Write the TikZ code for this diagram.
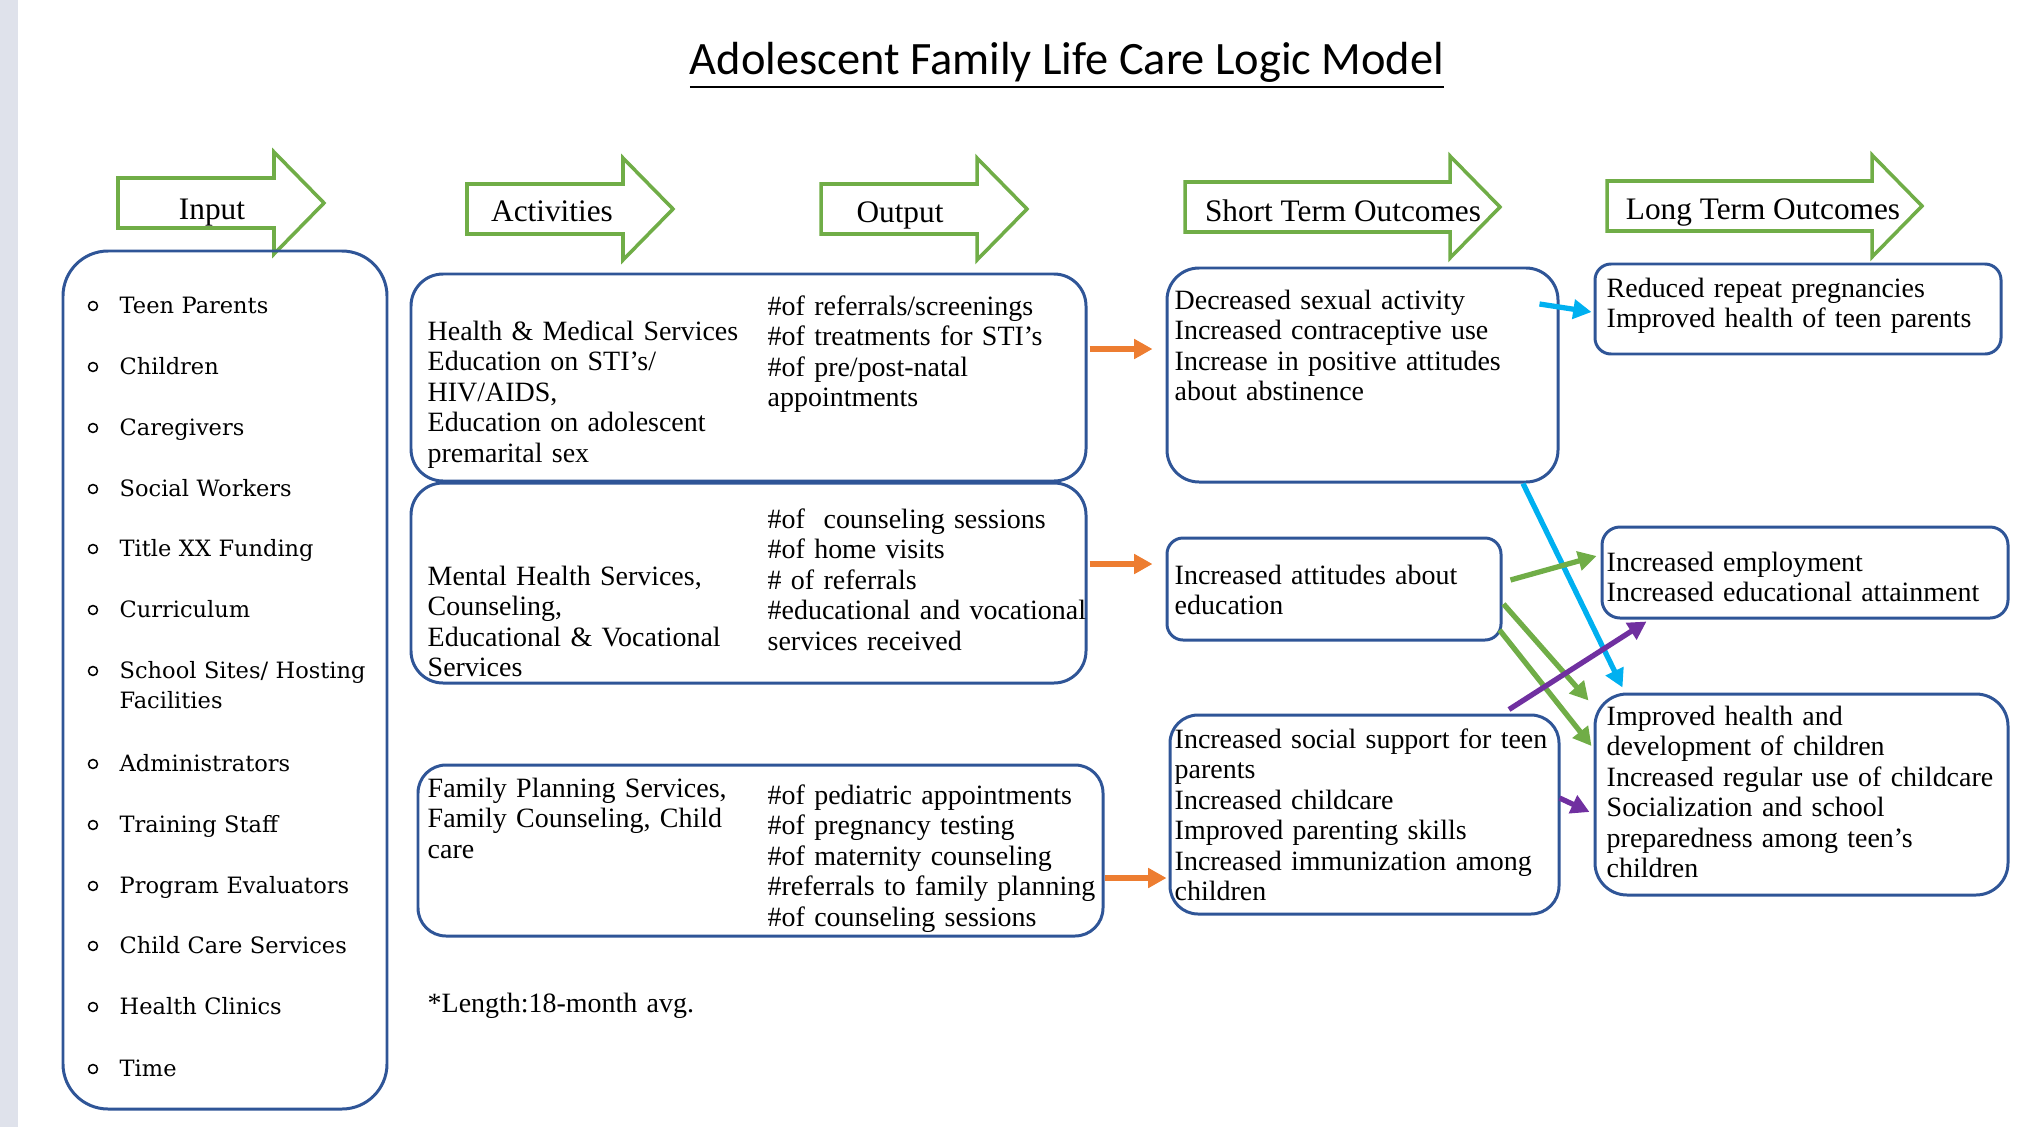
\documentclass[tikz,border=0pt]{standalone}
\usepackage{fontspec}
\setmainfont{Liberation Serif}
\newfontfamily\listfont{DejaVu Serif}
\newfontfamily\titlefont{Carlito}
\usetikzlibrary{arrows.meta,calc,fit}

\definecolor{boxblue}{HTML}{2F5597}
\definecolor{hdrgreen}{HTML}{70AD47}
\definecolor{arrorange}{HTML}{ED7D31}
\definecolor{arrcyan}{HTML}{00B0F0}
\definecolor{arrgreen}{HTML}{70AD47}
\definecolor{arrpurple}{HTML}{7030A0}
\definecolor{bandgray}{HTML}{DFE2EB}

\tikzstyle{every path}=[line cap=round,line join=round]
\tikzstyle{box}=[draw=boxblue,line width=0.85pt,inner sep=0pt]
\tikzstyle{hdr}=[draw=hdrgreen,line width=1pt,line join=miter]
\tikzstyle{hdrtext}=[font=\fontsize{8.9}{11}\selectfont,anchor=base,inner sep=0pt]
\tikzstyle{txt}=[font=\fontsize{7.95}{8.7}\selectfont,anchor=base west,align=left,text width=6cm,inner sep=0pt]
\tikzstyle{item}=[font=\listfont\fontsize{6.4}{8.8}\selectfont,anchor=base west,align=left,text width=4cm,inner sep=0pt]
\tikzstyle{bullet}=[draw,circle,minimum size=0.09cm,inner sep=0pt,line width=0.45pt]
\tikzstyle{link}=[line width=1.5pt,line cap=butt,-{Triangle[length=5.2pt,width=5.4pt]}]

\begin{document}
\begin{tikzpicture}[x=0.01cm,y=-0.01cm]
    \useasboundingbox (0,0) rectangle (2027,1127);
    % grey strip on the left page edge
    \fill[bandgray] (0,0) rectangle (18,1127);

    % Title
    \node[font=\titlefont\fontsize{13.2}{16}\selectfont,anchor=base,inner sep=0pt] (title)
        at (1067,74) {\underline{Adolescent Family Life Care Logic Model}};

    % Column headers as hollow block arrows
    \foreach \x/\y/\w/\tx/\ty/\n/\t in {
        118/203/156/212/219/hIn/Input,
        467/209/156/552/221/hAct/Activities,
        821/209/156/900/222/hOut/Output,
        1185/207/265/1343/221/hShort/Short Term Outcomes,
        1607/206/265/1763/219/hLong/Long Term Outcomes}{
        \draw[hdr] (\x,\y-25) -- ++(\w,0) -- ++(0,-26) -- ++(50,51)
            -- ++(-50,51) -- ++(0,-26) -- ++(-\w,0) -- cycle;
        \node[hdrtext] (\n) at (\tx,\ty) {\t};
    }

    % Boxes
    \node[box,rounded corners=0.45cm,fit={(63,251) (387,1109)}] (input) {};
    \node[box,rounded corners=0.32cm,fit={(411,274) (1086,481)}] (A1) {};
    \node[box,rounded corners=0.32cm,fit={(411,483) (1086,683)}] (A2) {};
    \node[box,rounded corners=0.28cm,fit={(418,765) (1103,936)}] (A3) {};
    \node[box,rounded corners=0.32cm,fit={(1167,268) (1558,482)}] (S1) {};
    \node[box,rounded corners=0.16cm,fit={(1167,538) (1501,640)}] (S2) {};
    \node[box,rounded corners=0.28cm,fit={(1170,715) (1559,914)}] (S3) {};
    \node[box,rounded corners=0.16cm,fit={(1595,264) (2001,354)}] (L1) {};
    \node[box,rounded corners=0.18cm,fit={(1602,527) (2008,618)}] (L2) {};
    \node[box,rounded corners=0.32cm,fit={(1595,694) (2008,895)}] (L3) {};

    % Input list
    \foreach \y/\t [count=\k] in {306/Teen Parents, 367/Children, 428/Caregivers,
        489/Social Workers, 549/Title XX Funding, 610/Curriculum,
        671/{School Sites/ Hosting\\Facilities}, 764/Administrators,
        825/Training Staff, 886/Program Evaluators, 946/Child Care Services,
        1007/Health Clinics, 1069/Time}{
        \node[bullet] (dot\k) at (93,\y) {};
        \node[item] (in\k) at (119,\y+7) {\t};
    }

    % Activities and outputs
    \node[txt] (act1) at (427,340) {Health \& Medical Services\\Education on STI’s/\\HIV/AIDS,\\Education on adolescent\\premarital sex};
    \node[txt] (out1) at (767,315) {\#of referrals/screenings\\\#of treatments for STI’s\\\#of pre/post-natal\\appointments};
    \node[txt] (act2) at (427,585) {Mental Health Services,\\Counseling,\\Educational \& Vocational\\Services};
    \node[txt] (out2) at (767,528) {\#of\ \ counseling sessions\\\#of home visits\\\# of referrals\\\#educational and vocational\\services received};
    \node[txt] (act3) at (427,797) {Family Planning Services,\\Family Counseling, Child\\care};
    \node[txt] (out3) at (767,804) {\#of pediatric appointments\\\#of pregnancy testing\\\#of maternity counseling\\\#referrals to family planning\\\#of counseling sessions};
    \node[txt] (note) at (427,1012) {*Length:18-month avg.};

    % Outcomes
    \node[txt] (st1) at (1174,309) {Decreased sexual activity\\Increased contraceptive use\\Increase in positive attitudes\\about abstinence};
    \node[txt] (st2) at (1174,584) {Increased attitudes about\\education};
    \node[txt] (st3) at (1174,748) {Increased social support for teen\\parents\\Increased childcare\\Improved parenting skills\\Increased immunization among\\children};
    \node[txt] (lt1) at (1606,297) {Reduced repeat pregnancies\\Improved health of teen parents};
    \node[txt] (lt2) at (1606,571) {Increased employment\\Increased educational attainment};
    \node[txt] (lt3) at (1606,725) {Improved health and\\development of children\\Increased regular use of childcare\\Socialization and school\\preparedness among teen’s\\children};

    % Links
    \draw[link,arrorange] ($(A1.east)+(2,-28.5)$) -- ($(S1.west)+(-13,-26)$);
    \draw[link,arrorange] ($(A2.east)+(2,-19)$) -- ($(S2.west)+(-13,-25)$);
    \draw[link,arrorange] ($(A3.east)+(0,27.5)$) -- ($(S3.west)+(-2,63.5)$);
    \draw[link,arrcyan] ($(S1.east)+(-20,-71)$) -- ($(L1.west)+(-2,3)$);
    \draw[link,arrcyan] ($(S1.south)+(160.5,0)$) -- ($(L3.north west)+(29,-5)$);
    \draw[link,arrgreen] ($(S2.east)+(8,-9)$) -- ($(L2.west)+(-4,-16.5)$);
    \draw[link,arrgreen] ($(S2.east)+(1,15)$) -- ($(L3.north west)+(-5,8)$);
    \draw[link,arrgreen] ($(S2.east)+(-3,41)$) -- ($(L3.west)+(-2,-48.5)$);
    \draw[link,arrpurple] ($(S3.north)+(144.5,-4)$) -- ($(L2.south west)+(46,2)$);
    \draw[link,arrpurple] ($(S3.east)+(-1,-16.5)$) -- ($(L3.west)+(-4,17.5)$);
\end{tikzpicture}
\end{document}
